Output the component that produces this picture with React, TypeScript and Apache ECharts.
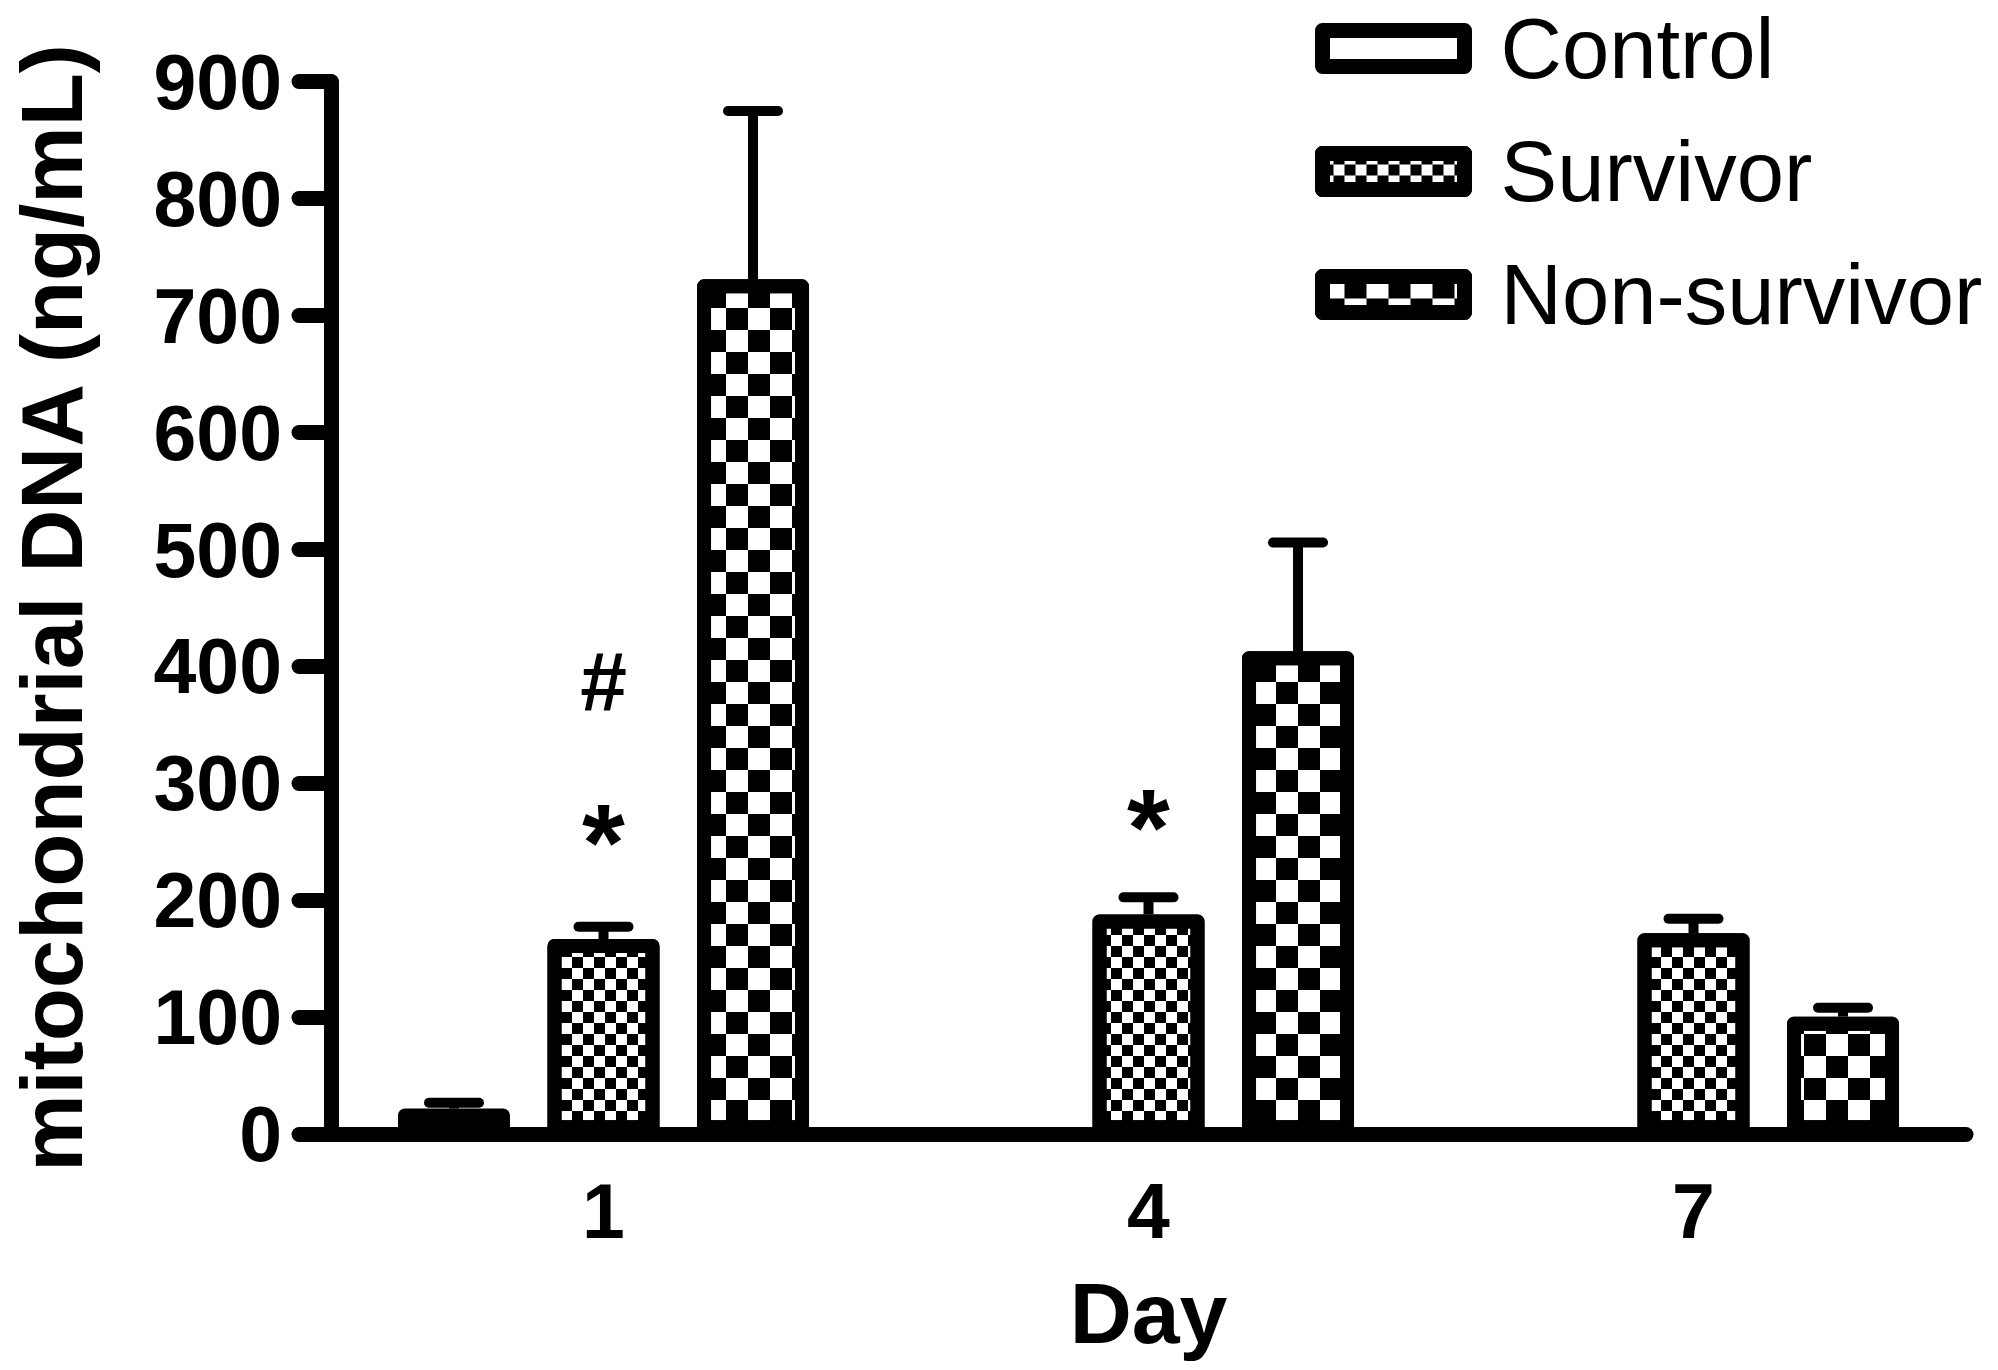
import React, { useEffect, useRef } from 'react';
import * as echarts from 'echarts';

// ---- data ----
const days = ['1', '4', '7'];
const groupNames = ['Control', 'Survivor', 'Non-survivor'];
const controlMean: (number | null)[] = [22, null, null];
const controlSem: (number | null)[] = [5, null, null];
const survivorMean: number[] = [167, 188, 172];
const survivorSem: number[] = [10.5, 14.6, 12.3];
const nonSurvivorMean: number[] = [731, 413, 100.6];
const nonSurvivorSem: number[] = [144, 93, 7.6];
const yMin = 0;
const yMax = 900;
const yInterval = 100;
const annotationDays = ['1', '1', '4'];
const annotationValues = [387, 250, 263];
const annotationTexts = ['#', '*', '*'];

// ---- style constants ----
const FONT = 'Liberation Sans, Arial, sans-serif';
const BAR_W = 112;
const BAR_GAP = 0.335;
const LINE_W = 15;

const means = [controlMean, survivorMean, nonSurvivorMean];
const sems = [controlSem, survivorSem, nonSurvivorSem];

function checker(s: number) {
  return {
    symbol: 'rect',
    symbolSize: 1,
    dashArrayX: [[s, s], [0, s, s, 0]],
    dashArrayY: [s, 0],
    color: '#000',
    backgroundColor: '#fff',
    rotation: 0,
  };
}
const decals = [null, checker(11), checker(22)];

export default function App() {
  const ref = useRef<HTMLDivElement>(null);
  useEffect(() => {
    document.body.style.margin = '0';
    const chart = echarts.init(ref.current!, null, { renderer: 'svg' });

    const errData: number[][] = [];
    means.forEach((arr, s) => {
      arr.forEach((m, i) => {
        const e = sems[s][i];
        if (m != null && e != null) errData.push([i, m, e, s]);
      });
    });

    const barSeries = groupNames.map((name, s) => {
      const itemStyle: any = {
        color: '#fff',
        borderColor: '#000',
        borderWidth: 14,
        borderJoin: 'round',
      };
      if (decals[s]) itemStyle.decal = decals[s];
      const ser: any = {
        name,
        type: 'bar',
        data: means[s],
        barWidth: BAR_W,
        barGap: BAR_GAP * 100 + '%',
        itemStyle,
        emphasis: { disabled: true },
        z: 3,
      };
      if (s === 1) {
        ser.markPoint = {
          symbol: 'circle',
          symbolSize: 1,
          itemStyle: { color: 'rgba(0,0,0,0)' },
          label: {
            show: true,
            position: 'inside',
            formatter: '{b}',
            color: '#000',
            fontWeight: 'bold',
            fontFamily: FONT,
          },
          data: annotationTexts.map((t, k) => ({
            name: t,
            coord: [annotationDays[k], annotationValues[k]],
            label: { fontSize: t === '*' ? 110 : 84 },
          })),
        };
      }
      return ser;
    });

    const option: any = {
      animation: false,
      backgroundColor: '#fff',
      grid: { left: 320.5, right: 32, top: 81.7, bottom: 235.7, containLabel: false },
      legend: {
        orient: 'vertical',
        left: 1310,
        top: 1,
        itemWidth: 142,
        itemHeight: 36,
        itemGap: 38,
        icon: 'rect',
        selectedMode: false,
        itemStyle: { borderColor: '#000', borderWidth: 15 },
        textStyle: { fontSize: 85, lineHeight: 82, fontFamily: FONT, color: '#000', padding: [0, 0, 0, 31] },
        data: groupNames,
      },
      xAxis: {
        type: 'category',
        data: days,
        name: 'Day',
        nameLocation: 'middle',
        nameGap: 136,
        nameTextStyle: { fontSize: 86, fontWeight: 'bold', fontFamily: FONT, color: '#000' },
        axisLine: { lineStyle: { color: '#000', width: LINE_W, cap: 'round' } },
        axisTick: { show: false },
        axisLabel: { fontSize: 77, fontWeight: 'bold', fontFamily: FONT, color: '#000', margin: 38 },
        splitLine: { show: false },
      },
      yAxis: {
        type: 'value',
        min: yMin,
        max: yMax,
        interval: yInterval,
        name: 'mitochondrial DNA (ng/mL)',
        nameLocation: 'middle',
        nameGap: 236,
        nameTextStyle: { fontSize: 87, fontWeight: 'bold', fontFamily: FONT, color: '#000' },
        axisLine: { show: true, lineStyle: { color: '#000', width: LINE_W, cap: 'round' } },
        axisTick: { show: true, length: 32, lineStyle: { color: '#000', width: LINE_W, cap: 'round' } },
        axisLabel: { fontSize: 77, fontWeight: 'bold', fontFamily: FONT, color: '#000', margin: 49 },
        splitLine: { show: false },
      },
      series: [
        ...barSeries,
        {
          type: 'custom',
          name: 'error',
          data: errData,
          z: 2,
          silent: true,
          encode: { x: 0, y: 1 },
          renderItem: (params: any, api: any) => {
            const i = api.value(0);
            const m = api.value(1);
            const e = api.value(2);
            const s = api.value(3);
            const base = api.coord([i, m]);
            const top = api.coord([i, m + e]);
            const x = base[0] + (s - 1) * BAR_W * (1 + BAR_GAP);
            return {
              type: 'group',
              children: [
                {
                  type: 'line',
                  shape: { x1: x, y1: base[1], x2: x, y2: top[1] },
                  style: { stroke: '#000', lineWidth: 10 },
                },
                {
                  type: 'line',
                  shape: { x1: x - 25, y1: top[1], x2: x + 25, y2: top[1] },
                  style: { stroke: '#000', lineWidth: 10, lineCap: 'round' },
                },
              ],
            };
          },
        },
      ],
    };
    chart.setOption(option);
    return () => chart.dispose();
  }, []);
  return <div ref={ref} style={{ position: 'fixed', left: 0, top: 0, width: 1998, height: 1370 }} />;
}
